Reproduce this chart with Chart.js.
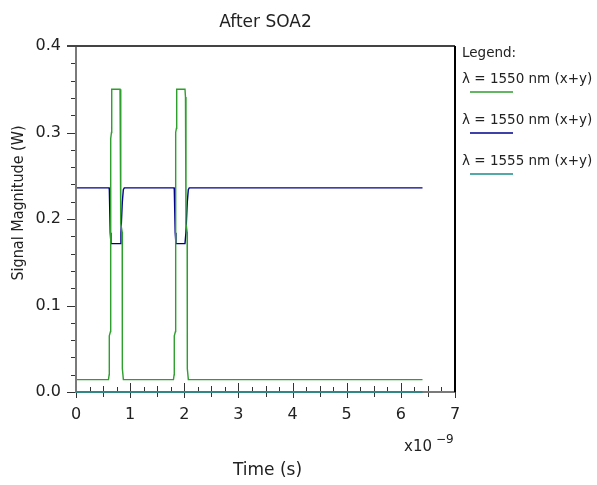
<!DOCTYPE html>
<html lang="en">
<head>
    <meta charset="UTF-8">
    <title>After SOA2</title>
    <style>
        body {
            margin: 0;
            padding: 0;
            background: #fff;
        }
        .chart-container {
            width: 597px;
            height: 485px;
            position: relative;
        }
    </style>
</head>
<body>
    <div class="chart-container">
        <canvas id="soaChart"></canvas>
    </div>

    <script src="https://cdn.jsdelivr.net/npm/chart.js"></script>
    <script>
        // Time in units of 1e-9 s (the axis shows "x10^-9")
        const greenTime = [0, 0.600, 0.612, 0.615, 0.637, 0.641, 0.655, 0.660, 0.813, 0.822, 0.831, 0.853, 0.856, 0.875,
                           1.800, 1.812, 1.815, 1.837, 1.841, 1.855, 1.860, 2.013, 2.022, 2.031, 2.053, 2.056, 2.075, 6.400];
        const greenPower = [0.0143, 0.0143, 0.020, 0.065, 0.070, 0.293, 0.300, 0.350, 0.350, 0.341, 0.195, 0.185, 0.027, 0.0143,
                            0.0143, 0.020, 0.065, 0.070, 0.300, 0.305, 0.350, 0.350, 0.341, 0.195, 0.185, 0.027, 0.0143, 0.0143];

        const blueTime = [0, 0.612, 0.616, 0.632, 0.646, 0.813, 0.830, 0.855, 0.874, 0.892,
                          1.812, 1.816, 1.832, 1.846, 2.013, 2.030, 2.055, 2.074, 2.092, 6.400];
        const bluePower = [0.236, 0.236, 0.233, 0.184, 0.1715, 0.1715, 0.184, 0.219, 0.234, 0.236,
                           0.236, 0.233, 0.184, 0.1715, 0.1715, 0.184, 0.219, 0.234, 0.236, 0.236];

        const tealTime = [0, 6.400];
        const tealPower = [0, 0];

        const seriesLabels = ['\u03bb = 1550 nm (x+y)', '\u03bb = 1550 nm (x+y)', '\u03bb = 1555 nm (x+y)'];
        const seriesColors = ['#2e9e2e', '#00008c', '#178c8c'];

        const xTicks = [0, 1, 2, 3, 4, 5, 6, 7];
        const yTicks = [0.0, 0.1, 0.2, 0.3, 0.4];

        const FONT = "'DejaVu Sans', sans-serif";
        const TEXT = '#222';

        function toPoints(xs, ys) {
            return xs.map((x, i) => ({ x: x, y: ys[i] }));
        }

        // Frame, tick marks, titles and legend in the style of the original plot
        const framePlugin = {
            id: 'frame',
            afterDraw(chart) {
                const ctx = chart.ctx;
                const a = chart.chartArea;
                const xs = chart.scales.x;
                const ys = chart.scales.y;
                ctx.save();

                // tick marks
                ctx.strokeStyle = '#333';
                ctx.lineWidth = 1;
                for (let v = 0; v <= 0.4001; v += 0.02) {
                    const y = Math.round(ys.getPixelForValue(v)) + 0.5;
                    const major = Math.abs(v * 10 - Math.round(v * 10)) < 1e-6;
                    ctx.beginPath();
                    ctx.moveTo(a.left - (major ? 9 : 5), y);
                    ctx.lineTo(a.left, y);
                    ctx.stroke();
                }
                for (let v = 0; v <= 7.001; v += 0.25) {
                    const x = Math.round(xs.getPixelForValue(v)) + 0.5;
                    const whole = Math.abs(v - Math.round(v)) < 1e-6;
                    const half = Math.abs(v * 2 - Math.round(v * 2)) < 1e-6;
                    ctx.beginPath();
                    if (whole) {
                        ctx.moveTo(x, a.bottom - 9);
                        ctx.lineTo(x, a.bottom + 6);
                    } else if (half) {
                        ctx.moveTo(x, a.bottom - 6);
                        ctx.lineTo(x, a.bottom + 5);
                    } else {
                        ctx.moveTo(x, a.bottom - 5);
                        ctx.lineTo(x, a.bottom);
                    }
                    ctx.stroke();
                }

                // axes (gray) and top/right border
                ctx.lineWidth = 2;
                ctx.strokeStyle = '#7a7a7a';
                ctx.beginPath();
                ctx.moveTo(a.left, a.top);
                ctx.lineTo(a.left, a.bottom);
                ctx.lineTo(a.right, a.bottom);
                ctx.stroke();
                ctx.strokeStyle = '#444';
                ctx.beginPath();
                ctx.moveTo(a.left - 9, a.top);
                ctx.lineTo(a.right, a.top);
                ctx.stroke();
                ctx.strokeStyle = '#000';
                ctx.beginPath();
                ctx.moveTo(a.right, a.top);
                ctx.lineTo(a.right, a.bottom);
                ctx.stroke();

                // redraw the zero series over the x axis
                const meta = chart.getDatasetMeta(2);
                ctx.strokeStyle = seriesColors[2];
                ctx.lineWidth = 1.5;
                ctx.beginPath();
                ctx.moveTo(meta.data[0].x, meta.data[0].y);
                ctx.lineTo(meta.data[meta.data.length - 1].x, meta.data[meta.data.length - 1].y);
                ctx.stroke();

                // texts
                ctx.fillStyle = TEXT;
                ctx.textAlign = 'center';
                ctx.textBaseline = 'alphabetic';
                ctx.font = '17px ' + FONT;
                ctx.fillText('After SOA2', (a.left + a.right) / 2, 27);

                ctx.font = '17px ' + FONT;
                ctx.fillText('Time (s)', (a.left + a.right) / 2 + 2, 475);

                ctx.save();
                ctx.translate(23, 203);
                ctx.rotate(-Math.PI / 2);
                ctx.font = "16px 'DejaVu Sans Condensed', 'DejaVu Sans', sans-serif";
                ctx.fillText('Signal Magnitude (W)', 0, 0);
                ctx.restore();

                // exponent label
                ctx.textAlign = 'left';
                ctx.font = '15px ' + FONT;
                ctx.fillText('x10', 404, 451);
                ctx.font = '12px ' + FONT;
                ctx.fillText('\u22129', 436, 443);

                // legend
                ctx.font = '13.5px ' + FONT;
                ctx.fillText('Legend:', 462, 57);
                for (let i = 0; i < seriesLabels.length; i++) {
                    const ly = 92 + i * 41;
                    ctx.fillStyle = TEXT;
                    ctx.fillText(seriesLabels[i], 462, ly - 9);
                    ctx.strokeStyle = seriesColors[i];
                    ctx.lineWidth = 1.5;
                    ctx.beginPath();
                    ctx.moveTo(470, ly);
                    ctx.lineTo(513, ly);
                    ctx.stroke();
                }
                ctx.restore();
            }
        };

        new Chart(document.getElementById('soaChart').getContext('2d'), {
            type: 'line',
            data: {
                datasets: [
                    { label: seriesLabels[0], data: toPoints(greenTime, greenPower), borderColor: seriesColors[0] },
                    { label: seriesLabels[1], data: toPoints(blueTime, bluePower), borderColor: seriesColors[1] },
                    { label: seriesLabels[2], data: toPoints(tealTime, tealPower), borderColor: seriesColors[2] }
                ]
            },
            options: {
                responsive: true,
                maintainAspectRatio: false,
                animation: false,
                layout: {
                    padding: { left: 0, right: 142, top: 46, bottom: 0 }
                },
                elements: {
                    point: { radius: 0 },
                    line: { borderWidth: 1.4, tension: 0 }
                },
                plugins: {
                    legend: { display: false },
                    title: { display: false },
                    tooltip: { enabled: false }
                },
                scales: {
                    x: {
                        type: 'linear',
                        min: 0,
                        max: 7,
                        afterFit(scale) { scale.height = 93; },
                        afterBuildTicks(scale) { scale.ticks = xTicks.map(v => ({ value: v })); },
                        grid: { display: false, drawTicks: false },
                        border: { display: false },
                        ticks: {
                            padding: 13,
                            color: TEXT,
                            font: { family: FONT, size: 16 },
                            maxRotation: 0,
                            autoSkip: false
                        }
                    },
                    y: {
                        min: 0,
                        max: 0.4,
                        afterFit(scale) { scale.width = 76; },
                        afterBuildTicks(scale) { scale.ticks = yTicks.map(v => ({ value: v })); },
                        grid: { display: false, drawTicks: false },
                        border: { display: false },
                        ticks: {
                            padding: 15,
                            color: TEXT,
                            font: { family: FONT, size: 16 },
                            callback: v => v.toFixed(1)
                        }
                    }
                }
            },
            plugins: [framePlugin]
        });
    </script>
</body>
</html>
